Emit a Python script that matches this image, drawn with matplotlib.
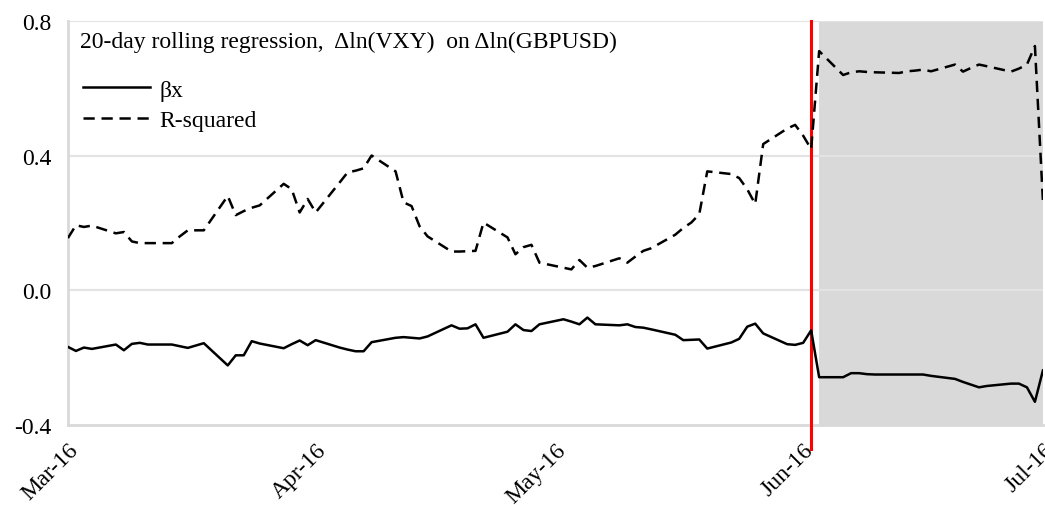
"""
Rolling regression of VXY on GBPUSD: slope and R-squared over time.
"""

import matplotlib
matplotlib.use("Agg")
import matplotlib.pyplot as plt
import matplotlib.dates as mdates
from matplotlib.ticker import FuncFormatter
import pandas as pd


# business days from 1 March to 1 July 2016
dates = pd.bdate_range("2016-03-01", "2016-07-01")

beta_x = [
    # Mar
    -0.168, -0.180, -0.170, -0.174, -0.161, -0.178, -0.159, -0.156, -0.161,
    -0.161, -0.166, -0.171, -0.164, -0.157, -0.223, -0.193, -0.193, -0.151,
    -0.158, -0.172, -0.160, -0.149, -0.163,
    # Apr
    -0.148, -0.170, -0.176, -0.181, -0.181, -0.154, -0.141, -0.139, -0.141,
    -0.143, -0.137, -0.104, -0.114, -0.113, -0.101, -0.141, -0.123, -0.101,
    -0.118, -0.121, -0.101,
    # May
    -0.086, -0.093, -0.101, -0.081, -0.101, -0.104, -0.101, -0.109, -0.111,
    -0.116, -0.132, -0.148, -0.147, -0.146, -0.173, -0.155, -0.144, -0.108,
    -0.099, -0.128, -0.160, -0.162,
    # Jun
    -0.156, -0.119, -0.258, -0.258, -0.246, -0.246, -0.249, -0.250, -0.250,
    -0.250, -0.250, -0.250, -0.254, -0.263, -0.272, -0.280, -0.288, -0.284,
    -0.277, -0.277, -0.288, -0.331,
    # Jul
    -0.238,
]

r_squared = [
    # Mar
    0.155, 0.193, 0.188, 0.192, 0.169, 0.173, 0.145, 0.140, 0.140, 0.140,
    0.160, 0.178, 0.178, 0.178, 0.280, 0.223, 0.235, 0.245, 0.252, 0.316,
    0.300, 0.231, 0.271,
    # Apr
    0.231, 0.320, 0.350, 0.355, 0.362, 0.400, 0.353, 0.261, 0.250, 0.190,
    0.160, 0.115, 0.115, 0.116, 0.117, 0.201, 0.157, 0.107, 0.128, 0.135,
    0.082,
    # May
    0.067, 0.062, 0.090, 0.067, 0.072, 0.095, 0.082, 0.100, 0.117, 0.125,
    0.165, 0.185, 0.201, 0.226, 0.353, 0.345, 0.333, 0.300, 0.256, 0.434,
    0.480, 0.491,
    # Jun
    0.459, 0.419, 0.710, 0.639, 0.647, 0.650, 0.648, 0.647, 0.645, 0.650,
    0.652, 0.655, 0.650, 0.670, 0.649, 0.660, 0.670, 0.665, 0.649, 0.658,
    0.670, 0.725,
    # Jul
    0.266,
]

event_day = pd.Timestamp("2016-06-02")
shade_start = pd.Timestamp("2016-06-03")
shade_end = pd.Timestamp("2016-07-01")

y_ticks = [-0.4, 0.0, 0.4, 0.8]
title = "20-day rolling regression,  \u0394ln(VXY)  on \u0394ln(GBPUSD)"


def main():
    """Draws the chart and saves it"""

    plt.rcParams["font.family"] = ["Liberation Serif", "DejaVu Serif"]
    fs = 17

    fig = plt.figure(figsize=(10.45, 5.06), dpi=100)
    ax = fig.add_axes([0.065, 0.158, 0.933, 0.799])

    grid_col = "#d9d9d9"

    # period after the event
    ax.axvspan(shade_start, shade_end, color="#d9d9d9", lw=0, zorder=0)
    for y in y_ticks[1:]:
        ax.axhline(y, color="#e3e3e3", lw=1.5, zorder=0.5)

    # red marker runs a little below the axis
    ax.axvline(event_day, color="red", lw=2.2, zorder=3, clip_on=False,
               ymin=-0.06, ymax=1)

    ax.plot(dates, beta_x, color="black", lw=1.8, label="\u03b2x", zorder=4)
    ax.plot(dates, r_squared, color="black", lw=1.8, dashes=(4.5, 2.7),
            label="R-squared", zorder=4)

    ax.set_xlim(pd.Timestamp("2016-03-01"), pd.Timestamp("2016-07-01"))
    ax.set_ylim(-0.4, 0.8)
    ax.set_yticks(y_ticks)
    ax.yaxis.set_major_formatter(FuncFormatter(lambda v, p: "%.1f" % v))

    ax.xaxis.set_major_locator(mdates.MonthLocator())
    ax.xaxis.set_major_formatter(mdates.DateFormatter("%b-%y"))
    plt.setp(ax.get_xticklabels(), rotation=45, ha="right",
             rotation_mode="anchor")

    ax.tick_params(axis="both", length=0, labelsize=fs)
    ax.tick_params(axis="y", pad=12)
    ax.tick_params(axis="x", pad=10)

    for side in ["top", "right"]:
        ax.spines[side].set_visible(False)
    for side in ["left", "bottom"]:
        ax.spines[side].set_color(grid_col)
        ax.spines[side].set_linewidth(2)

    ax.text(0.012, 0.948, title, transform=ax.transAxes, fontsize=fs,
            va="center", ha="left")

    ax.legend(loc="upper left", bbox_to_anchor=(0.015, 0.856),
              frameon=False, fontsize=fs, handlelength=2.85,
              handletextpad=0.4, labelspacing=0.4, borderaxespad=0,
              borderpad=0)

    fig.savefig("out.png", dpi=100)


if __name__ == "__main__":
    main()
